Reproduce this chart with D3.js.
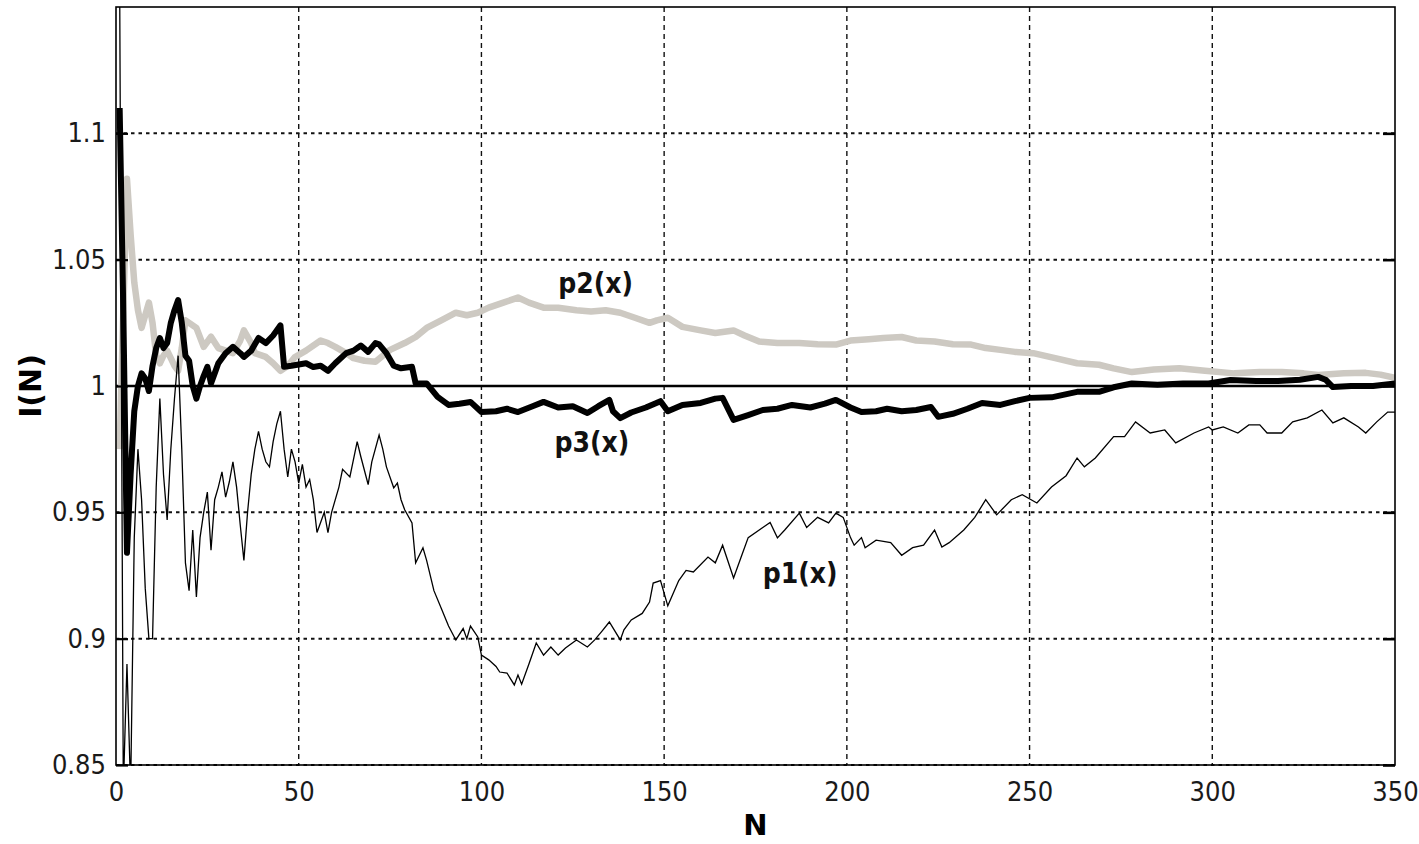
<!DOCTYPE html>
<html>
<head>
<meta charset="utf-8">
<script src="https://cdn.jsdelivr.net/npm/d3@7"></script>
<style>
  body { margin: 0; background: #fff; }
</style>
</head>
<body>
<svg id="chart" width="1419" height="844"></svg>
<script>
// series as [N, I(N)]
const p1 = [[1,1.16],[2,0.84],[3,0.89],[4,0.84],[5,0.94],[6,0.975],[7,0.955],[8,0.92],[9,0.90],[10,0.90],
  [11,0.96],[12,0.995],[13,0.965],[14,0.947],[15,0.975],[16,0.995],[17,1.012],[18,0.975],[19,0.93],[20,0.919],
  [21,0.943],[22,0.9165],[23,0.94],[24,0.95],[25,0.958],[26,0.935],[27,0.955],[28,0.96],[29,0.966],[30,0.956],
  [31,0.962],[32,0.97],[33,0.96],[34,0.945],[35,0.931],[36,0.95],[37,0.965],[38,0.975],[39,0.982],[40,0.975],
  [41,0.97],[42,0.968],[43,0.978],[44,0.985],[45,0.99],[46,0.975],[47,0.964],[48,0.975],[49,0.97],[50,0.9616],
  [51,0.969],[52,0.96],[53,0.963],[54,0.955],[55,0.942],[57,0.95],[58,0.942],[59,0.95],[61,0.96],[62,0.967],
  [64,0.964],[66,0.978],[67,0.972],[69,0.961],[70,0.97],[72,0.9806],[73,0.975],[74,0.968],[76,0.9597],[77,0.9616],
  [78,0.955],[79,0.951],[81,0.9458],[82,0.93],[84,0.936],[85,0.931],[87,0.919],[89,0.912],[91,0.905],[93,0.8995],
  [95,0.904],[96,0.9],[97,0.905],[99,0.9007],[100,0.8935],[102,0.8916],[104,0.889],[105,0.8868],[107,0.8864],[109,0.8817],
  [110,0.8856],[111,0.882],[113,0.89],[115,0.8983],[117,0.8935],[119,0.8967],[121,0.8935],[123,0.8963],[126,0.8995],[129,0.8967],
  [131,0.8995],[133,0.903],[135,0.9066],[138,0.8995],[139,0.9035],[141,0.9074],[144,0.91],[146,0.9145],[147,0.922],[149,0.923],
  [151,0.913],[154,0.923],[156,0.927],[158,0.9264],[162,0.9323],[164,0.93],[166,0.937],[169,0.924],[171,0.932],[173,0.94],
  [177,0.944],[179,0.946],[181,0.9399],[183,0.943],[187,0.9497],[189,0.944],[192,0.948],[195,0.9458],[197,0.9497],[199,0.948],
  [201,0.94],[202,0.937],[204,0.94],[205,0.936],[208,0.939],[212,0.938],[215,0.933],[218,0.936],[221,0.937],[224,0.943],
  [226,0.9363],[228,0.938],[232,0.943],[235,0.948],[238,0.955],[241,0.949],[245,0.955],[248,0.957],[252,0.9537],[256,0.96],
  [260,0.9645],[263,0.9715],[265,0.968],[268,0.9715],[273,0.98],[276,0.98],[279,0.9858],[283,0.9814],[287,0.9826],[290,0.9775],
  [295,0.9814],[299,0.9838],[300,0.9826],[303,0.9838],[307,0.9814],[310,0.9846],[313,0.9846],[315,0.9814],[319,0.9814],[322,0.9858],
  [326,0.9874],[330,0.9905],[333,0.9854],[336,0.9874],[340,0.9838],[342,0.9814],[345,0.9858],[348,0.9897],[350,0.9897]];

const p2 = [[1,0.975],[2,1.03],[3,1.082],[4,1.06],[5,1.041],[6,1.03],[7,1.023],[8,1.028],[9,1.033],[10,1.025],
  [11,1.012],[12,1.009],[13,1.012],[14,1.014],[15,1.011],[16,1.008],[17,1.006],[18,1.015],[19,1.026],[20,1.025],
  [22,1.023],[24,1.0155],[26,1.0195],[28,1.015],[30,1.014],[32,1.013],[34,1.018],[35,1.022],[37,1.017],[38,1.013],
  [41,1.0115],[43,1.009],[45,1.006],[47,1.008],[49,1.0115],[52,1.014],[56,1.018],[58,1.017],[60,1.0155],[63,1.013],
  [65,1.011],[68,1.01],[71,1.0096],[73,1.012],[75,1.0143],[79,1.017],[82,1.0194],[85,1.023],[89,1.026],[93,1.029],
  [96,1.028],[99,1.029],[102,1.031],[106,1.033],[110,1.035],[113,1.033],[117,1.031],[121,1.031],[126,1.03],[130,1.0295],
  [134,1.03],[138,1.029],[142,1.027],[146,1.025],[148,1.026],[151,1.027],[155,1.0234],[160,1.022],[164,1.021],[169,1.022],
  [172,1.02],[176,1.0176],[181,1.017],[187,1.017],[192,1.0165],[197,1.0164],[201,1.018],[206,1.0185],[210,1.019],[215,1.0194],
  [219,1.018],[224,1.0176],[229,1.0165],[234,1.0164],[238,1.015],[242,1.0143],[246,1.0135],[251,1.013],[257,1.011],[263,1.009],
  [269,1.0084],[273,1.007],[278,1.0055],[284,1.0065],[291,1.007],[298,1.006],[306,1.005],[313,1.0055],[319,1.0055],[325,1.005],
  [329,1.0044],[336,1.005],[342,1.0052],[346,1.0045],[350,1.0032]];

const p3 = [[1,1.11],[2,1.03],[3,0.934],[4,0.965],[5,0.99],[6,1.0],[7,1.005],[8,1.003],[9,0.998],[10,1.008],
  [11,1.015],[12,1.019],[13,1.015],[14,1.017],[15,1.025],[16,1.03],[17,1.034],[18,1.025],[19,1.012],[20,1.01],
  [21,1.0],[22,0.995],[23,1.0],[24,1.004],[25,1.0076],[26,1.001],[27,1.005],[28,1.009],[30,1.013],[32,1.0155],
  [34,1.013],[35,1.0115],[37,1.014],[39,1.019],[41,1.017],[43,1.02],[45,1.024],[46,1.0076],[48,1.008],[50,1.0085],
  [52,1.009],[54,1.0075],[56,1.008],[58,1.006],[60,1.009],[63,1.013],[65,1.014],[67,1.016],[69,1.0135],[71,1.017],
  [72,1.0165],[74,1.013],[76,1.008],[78,1.007],[81,1.0076],[82,1.001],[85,1.001],[88,0.9957],[91,0.9925],[94,0.993],
  [97,0.9937],[100,0.9897],[104,0.99],[107,0.991],[110,0.9897],[114,0.992],[117,0.9937],[121,0.9915],[125,0.992],[129,0.9893],
  [132,0.992],[135,0.9945],[136,0.99],[138,0.9873],[141,0.9895],[145,0.9915],[149,0.994],[151,0.99],[155,0.9925],[160,0.9933],
  [164,0.995],[166,0.9953],[169,0.9866],[173,0.9885],[177,0.9905],[181,0.991],[185,0.9925],[190,0.9915],[194,0.993],[197,0.9945],
  [201,0.9915],[204,0.9897],[208,0.99],[211,0.991],[215,0.99],[219,0.9905],[223,0.9917],[225,0.9878],[229,0.989],[233,0.991],
  [237,0.9933],[242,0.9925],[246,0.994],[250,0.9953],[256,0.9955],[263,0.9977],[269,0.9977],[273,0.9995],[278,1.001],[285,1.0005],
  [292,1.001],[299,1.001],[305,1.0024],[312,1.002],[318,1.002],[324,1.0025],[329,1.0036],[331,1.0025],[333,0.9996],[338,1.0],
  [344,1.0],[350,1.001]];

const xTicks = [0, 50, 100, 150, 200, 250, 300, 350];
const yTicks = [0.85, 0.9, 0.95, 1, 1.05, 1.1];
const refValue = 1;

// canvas
const margin = { top: 7, right: 24, bottom: 79, left: 116 };
const svg = d3.select('#chart');
const width = +svg.attr('width');
const height = +svg.attr('height');
const innerW = width - margin.left - margin.right;
const innerH = height - margin.top - margin.bottom;

const x = d3.scaleLinear().domain([0, 350]).range([margin.left, margin.left + innerW]);
const y = d3.scaleLinear().domain([0.85, 1.15]).range([margin.top + innerH, margin.top]);

svg.append('defs').append('clipPath').attr('id', 'plotClip')
  .append('rect')
  .attr('x', x(0)).attr('y', y(1.15))
  .attr('width', x(350) - x(0)).attr('height', y(0.85) - y(1.15));

// grid
svg.append('g').selectAll('line')
  .data(xTicks.filter(d => d > 0 && d < 350))
  .join('line')
  .attr('x1', d => x(d)).attr('x2', d => x(d))
  .attr('y1', y(1.15)).attr('y2', y(0.85))
  .attr('stroke', '#111').attr('stroke-width', 1.4)
  .attr('stroke-dasharray', '5,4');

svg.append('g').selectAll('line')
  .data(yTicks.filter(d => d !== refValue))
  .join('line')
  .attr('x1', x(0)).attr('x2', x(350))
  .attr('y1', d => y(d)).attr('y2', d => y(d))
  .attr('stroke', '#111').attr('stroke-width', 2)
  .attr('stroke-dasharray', '3.5,4');

// reference line at 1
svg.append('line')
  .attr('x1', x(0)).attr('x2', x(350))
  .attr('y1', y(refValue)).attr('y2', y(refValue))
  .attr('stroke', '#000').attr('stroke-width', 2.5);

const line = d3.line().x(d => x(d[0])).y(d => y(d[1]));
const plot = svg.append('g').attr('clip-path', 'url(#plotClip)');

plot.append('path').datum(p2)
  .attr('d', line).attr('fill', 'none')
  .attr('stroke', '#cdc9c2').attr('stroke-width', 6.5).attr('stroke-linejoin', 'round');

plot.append('path').datum(p1)
  .attr('d', line).attr('fill', 'none')
  .attr('stroke', '#000').attr('stroke-width', 1.3);

plot.append('path').datum(p3)
  .attr('d', line).attr('fill', 'none')
  .attr('stroke', '#000').attr('stroke-width', 6).attr('stroke-linejoin', 'round');

// frame
svg.append('rect')
  .attr('x', x(0)).attr('y', y(1.15))
  .attr('width', x(350) - x(0)).attr('height', y(0.85) - y(1.15))
  .attr('fill', 'none').attr('stroke', '#000').attr('stroke-width', 1.6);

// axes
const tickFont = '"DejaVu Sans Condensed", "DejaVu Sans", sans-serif';

const yAxisG = svg.append('g').attr('transform', `translate(${x(0)},0)`)
  .call(d3.axisLeft(y).tickValues(yTicks).tickSize(-12).tickPadding(10).tickFormat(d => String(d)));
yAxisG.select('.domain').remove();
yAxisG.selectAll('line').attr('stroke', '#000').attr('stroke-width', 2.2);

const yAxisR = svg.append('g').attr('transform', `translate(${x(350)},0)`)
  .call(d3.axisRight(y).tickValues(yTicks).tickSize(-12).tickFormat(''));
yAxisR.select('.domain').remove();
yAxisR.selectAll('line').attr('stroke', '#000').attr('stroke-width', 2.6);

const xAxisG = svg.append('g').attr('transform', `translate(0,${y(0.85)})`)
  .call(d3.axisBottom(x).tickValues(xTicks).tickSize(0).tickPadding(17).tickFormat(d => String(d)));
xAxisG.select('.domain').remove();

svg.selectAll('.tick text')
  .attr('font-family', tickFont)
  .attr('font-size', 27)
  .attr('fill', '#1a1a1a');

// axis titles
svg.append('text')
  .attr('transform', `translate(${margin.left - 86},${y(1)}) rotate(-90)`)
  .attr('text-anchor', 'middle')
  .attr('dy', '0.35em')
  .attr('font-family', '"DejaVu Sans", sans-serif')
  .attr('font-weight', 'bold')
  .attr('font-size', 30)
  .text('I(N)');

svg.append('text')
  .attr('x', x(175)).attr('y', 835)
  .attr('text-anchor', 'middle')
  .attr('font-family', '"DejaVu Sans", sans-serif')
  .attr('font-weight', 'bold')
  .attr('font-size', 29)
  .text('N');

// curve labels
const labels = [
  { text: 'p2(x)', n: 121, v: 1.0368 },
  { text: 'p3(x)', n: 120, v: 0.9739 },
  { text: 'p1(x)', n: 177, v: 0.922 }
];
svg.append('g').selectAll('text')
  .data(labels)
  .join('text')
  .attr('x', d => x(d.n)).attr('y', d => y(d.v))
  .attr('font-family', '"DejaVu Sans Condensed", "DejaVu Sans", sans-serif')
  .attr('font-weight', 'bold')
  .attr('font-size', 28)
  .attr('fill', '#111')
  .text(d => d.text);
</script>
</body>
</html>
